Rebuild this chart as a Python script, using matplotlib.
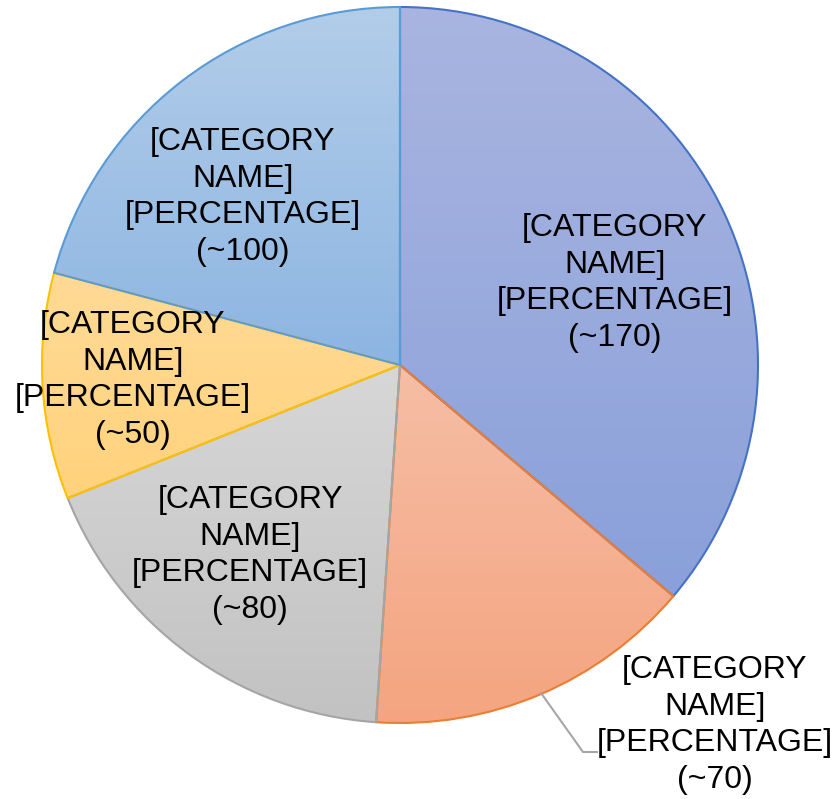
import numpy as np
import matplotlib.pyplot as plt
from matplotlib.colors import LinearSegmentedColormap

# slice sizes (labels only show rounded values)
values = [170, 70, 84, 48, 98]
label_nums = ["~170", "~70", "~80", "~50", "~100"]
labels = ["[CATEGORY\nNAME]\n[PERCENTAGE]\n(%s)" % n for n in label_nums]
top_colors = ["#A9B5E0", "#F6BEA5", "#D7D7D7", "#FFDA96", "#B2CDE9"]
bottom_colors = ["#8AA0DA", "#F4A480", "#C2C2C2", "#FFD27C", "#8DB5E2"]
edge_colors = ["#4472C4", "#ED7D31", "#A5A5A5", "#FFC000", "#5B9BD5"]

W, H = 839, 799
cx, cy, r = 400, H - 365, 358

plt.rcParams['font.family'] = ['Liberation Sans', 'DejaVu Sans']
fig = plt.figure(figsize=(W / 100, H / 100), dpi=100)
ax = fig.add_axes([0, 0, 1, 1])

wedges, _ = ax.pie(values, startangle=90, counterclock=False,
                   center=(cx, cy), radius=r, frame=True)

# vertical gradient fill per slice, clipped to the wedge
grad = np.linspace(0, 1, 256).reshape(-1, 1)
for w, c1, c2, ec in zip(wedges, top_colors, bottom_colors, edge_colors):
    w.set_facecolor("none")
    w.set_edgecolor(ec)
    w.set_linewidth(1.5)
    w.set_zorder(3)
    bb = w.get_path().get_extents(w.get_patch_transform())
    cmap = LinearSegmentedColormap.from_list("g", [c1, c2])
    im = ax.imshow(grad, cmap=cmap, aspect="auto", origin="upper",
                   extent=[bb.x0, bb.x1, bb.y0, bb.y1], zorder=2)
    im.set_clip_path(w)

ax.set_xlim(0, W)
ax.set_ylim(0, H)
ax.set_aspect("equal")
ax.axis("off")

# label positions (pixel coords, y from top)
label_pos = [(615, 283), (715, 725), (250, 555), (133, 380), (243, 197)]
for (lx, ly), txt in zip(label_pos, labels):
    ax.text(lx, H - ly, txt, ha="center", va="center", fontsize=23,
            linespacing=1.28, zorder=5)

# leader line for the small orange slice
ax.plot([541, 583, 597], [H - 693, H - 752, H - 752], color="#A6A6A6",
        lw=1.5, zorder=4)

fig.savefig("out.png", dpi=100)
